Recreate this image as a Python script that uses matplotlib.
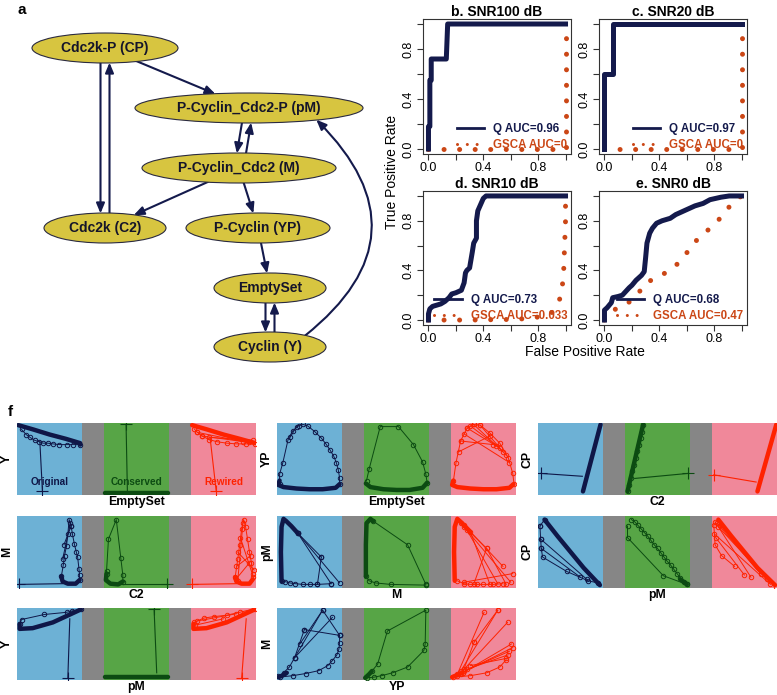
import numpy as np
import matplotlib.pyplot as plt
from matplotlib.patches import Ellipse, FancyArrowPatch
from matplotlib.lines import Line2D

plt.rcParams['font.family'] = ['Liberation Sans', 'DejaVu Sans']

W, H = 777, 695

# ---- panel a: network ----
node_labels = ['Cdc2k-P (CP)', 'P-Cyclin_Cdc2-P (pM)', 'P-Cyclin_Cdc2 (M)',
               'Cdc2k (C2)', 'P-Cyclin (YP)', 'EmptySet', 'Cyclin (Y)']
edges = [(0, 3), (3, 0), (0, 1), (1, 2), (2, 1), (2, 3), (2, 4),
         (4, 5), (5, 6), (6, 5), (6, 1)]

# layout of the network drawing (pixels)
node_x = [105, 249, 239, 105, 258, 270, 270]
node_y = [48, 108, 168, 228, 228, 288, 347]
node_halfw = [73, 114, 97, 61, 72, 56, 56]

# ---- panels b-e: ROC curves ----
roc_titles = ['b. SNR100 dB', 'c. SNR20 dB', 'd. SNR10 dB', 'e. SNR0 dB']
q_auc = ['0.96', '0.97', '0.73', '0.68']
gsca_auc = ['0', '0', '0.033', '0.47']

q_fpr_b = [0, 0, 0.01, 0.01, 0.02, 0.02, 0.13, 0.14, 1.0]
q_tpr_b = [0, 0.18, 0.18, 0.55, 0.55, 0.72, 0.72, 1.0, 1.0]
q_fpr_c = [0, 0, 0.06, 0.06, 1.0]
q_tpr_c = [0, 0.6, 0.6, 1.0, 1.0]
q_fpr_d = [0, 0, 0.01, 0.03, 0.06, 0.09, 0.12, 0.15, 0.17, 0.2, 0.24, 0.26, 0.27,
           0.28, 0.3, 0.32, 0.33, 0.35, 0.35, 0.36, 0.38, 0.4, 0.42, 1.0]
q_tpr_d = [0, 0.05, 0.09, 0.11, 0.12, 0.13, 0.15, 0.18, 0.21, 0.22, 0.24, 0.3, 0.38,
           0.4, 0.42, 0.55, 0.62, 0.66, 0.8, 0.88, 0.93, 0.98, 1.0, 1.0]
q_fpr_e = [0, 0, 0.02, 0.05, 0.06, 0.1, 0.13, 0.18, 0.2, 0.23, 0.27, 0.29, 0.3, 0.31,
           0.33, 0.35, 0.38, 0.42, 0.48, 0.52, 0.56, 0.62, 0.66, 0.72, 0.77, 0.85, 0.91, 1.0]
q_tpr_e = [0, 0.08, 0.1, 0.14, 0.18, 0.19, 0.2, 0.26, 0.28, 0.32, 0.36, 0.39, 0.5, 0.62,
           0.7, 0.74, 0.78, 0.8, 0.82, 0.85, 0.87, 0.9, 0.92, 0.94, 0.97, 0.99, 1.0, 1.0]

g_fpr_bc = [0, 1.0, 1.0]
g_tpr_bc = [0, 0, 1.0]
g_fpr_d = [0, 0.3, 0.6, 0.73, 0.83, 0.9, 0.95, 0.97, 0.985, 0.99, 0.995, 1.0, 1.0]
g_tpr_d = [0, 0.0, 0.005, 0.012, 0.03, 0.06, 0.14, 0.22, 0.35, 0.5, 0.65, 0.8, 1.0]
g_fpr_e = [0, 0.03, 0.11, 0.19, 0.25, 0.3, 0.38, 0.46, 0.53, 0.59, 0.63, 0.7, 0.76,
           0.82, 0.88, 0.93, 1.0]
g_tpr_e = [0, 0.05, 0.11, 0.15, 0.22, 0.3, 0.34, 0.39, 0.45, 0.52, 0.6, 0.67, 0.73,
           0.79, 0.87, 0.94, 1.0]

# ---- panel f: phase portraits (orig, conserved, rewired), panel-normalised ----
f_xlabels = ['EmptySet', 'EmptySet', 'C2', 'C2', 'M', 'pM', 'pM', 'YP']
f_ylabels = ['Y', 'YP', 'CP', 'M', 'pM', 'CP', 'Y', 'M']
condition_names = ['Original', 'Conserved', 'Rewired']

y_es_band = [[[(0.02, 0.97), (0.25, 0.91), (0.5, 0.84), (0.75, 0.78), (0.97, 0.72), (0.97, 0.7)]],
             [[(0.02, 0.03), (0.99, 0.03)]],
             [[(0.02, 0.97), (0.25, 0.91), (0.5, 0.84), (0.75, 0.78), (0.99, 0.72)]]]
y_es_loop = [[[(0.07, 0.91), (0.14, 0.84), (0.2, 0.8), (0.27, 0.76), (0.34, 0.74), (0.4, 0.72),
               (0.47, 0.72), (0.55, 0.71), (0.65, 0.7), (0.76, 0.7), (0.86, 0.7), (0.96, 0.7)]],
             [],
             [[(0.05, 0.92), (0.1, 0.87), (0.17, 0.82), (0.28, 0.77), (0.4, 0.74), (0.55, 0.72),
               (0.7, 0.71), (0.85, 0.71), (0.98, 0.71)],
              [(0.1, 0.87), (0.8, 0.74)], [(0.17, 0.82), (0.9, 0.73)], [(0.28, 0.8), (0.95, 0.76)]]]
y_es_spike = [[[(0.35, 0.75), (0.39, 0.05)]],
              [[(0.36, 0.06), (0.34, 0.98)]],
              [[(0.3, 0.76), (0.39, 0.05)]]]

yp_es_band = [[[(0.96, 0.15), (0.9, 0.1), (0.7, 0.08), (0.5, 0.08), (0.3, 0.09), (0.1, 0.11),
                (0.02, 0.14), (0.04, 0.2)]],
              [[(0.97, 0.17), (0.9, 0.1), (0.7, 0.07), (0.5, 0.07), (0.3, 0.08), (0.1, 0.11),
                (0.03, 0.16)]],
              [[(0.96, 0.15), (0.9, 0.1), (0.7, 0.08), (0.5, 0.08), (0.3, 0.09), (0.1, 0.11),
                (0.02, 0.14), (0.04, 0.2)]]]
yp_es_loop = [[[(0.04, 0.15), (0.04, 0.29), (0.09, 0.45), (0.17, 0.77), (0.24, 0.89),
                (0.33, 0.96), (0.4, 0.98), (0.47, 0.96), (0.58, 0.88), (0.68, 0.79),
                (0.75, 0.71), (0.81, 0.63), (0.87, 0.54), (0.91, 0.45), (0.94, 0.35),
                (0.96, 0.24), (0.96, 0.15)], [(0.2, 0.8), (0.3, 0.95)]],
              [[(0.04, 0.2), (0.08, 0.36), (0.25, 0.95), (0.53, 0.95), (0.76, 0.7),
                (0.9, 0.46), (0.95, 0.29), (0.97, 0.17)]],
              [[(0.04, 0.2), (0.08, 0.45), (0.15, 0.75), (0.25, 0.93), (0.35, 0.98),
                (0.45, 0.97), (0.6, 0.86), (0.75, 0.72), (0.88, 0.52), (0.95, 0.3), (0.97, 0.15)],
               [(0.3, 0.96), (0.75, 0.65)], [(0.35, 0.98), (0.8, 0.6)], [(0.45, 0.97), (0.85, 0.55)],
               [(0.25, 0.93), (0.7, 0.68)], [(0.15, 0.75), (0.65, 0.7)], [(0.2, 0.85), (0.9, 0.45)],
               [(0.12, 0.6), (0.6, 0.82)]]]
yp_es_spike = [[], [], []]

cp_c2_band = [[[(0.69, 0.05), (0.96, 0.98)]],
              [[(0.04, 0.05), (0.28, 0.98)]],
              [[(0.7, 0.05), (0.99, 0.98)]]]
cp_c2_loop = [[],
              [[(0.04, 0.05), (0.065, 0.14), (0.09, 0.23), (0.115, 0.33), (0.14, 0.42),
                (0.165, 0.52), (0.19, 0.61), (0.215, 0.7), (0.24, 0.79), (0.26, 0.88), (0.28, 0.97)]],
              []]
cp_c2_spike = [[[(0.68, 0.26), (0.04, 0.3)]],
               [[(0.15, 0.23), (0.97, 0.3)]],
               [[(0.68, 0.18), (0.03, 0.28)]]]

m_c2_band = [[[(0.96, 0.11), (0.9, 0.06), (0.78, 0.06), (0.7, 0.09), (0.68, 0.16)]],
             [[(0.29, 0.09), (0.22, 0.05), (0.1, 0.06), (0.03, 0.11), (0.04, 0.2)]],
             [[(0.95, 0.12), (0.9, 0.06), (0.78, 0.06), (0.7, 0.09), (0.68, 0.15)]]]
m_c2_loop = [[[(0.68, 0.16), (0.71, 0.32), (0.73, 0.45), (0.76, 0.59), (0.78, 0.75), (0.8, 0.95),
               (0.83, 0.86), (0.85, 0.75), (0.88, 0.61), (0.91, 0.5), (0.93, 0.43), (0.95, 0.27),
               (0.96, 0.18), (0.96, 0.11)], [(0.72, 0.6), (0.83, 0.86)], [(0.7, 0.4), (0.82, 0.9)]],
             [[(0.04, 0.2), (0.04, 0.23), (0.07, 0.68), (0.19, 0.95), (0.26, 0.41), (0.29, 0.18),
               (0.29, 0.09)]],
             [[(0.68, 0.15), (0.72, 0.4), (0.75, 0.6), (0.78, 0.82), (0.81, 0.95), (0.84, 0.85),
               (0.87, 0.68), (0.9, 0.5), (0.93, 0.35), (0.95, 0.2)],
              [(0.72, 0.1), (0.8, 0.9)], [(0.96, 0.15), (0.76, 0.7)], [(0.7, 0.3), (0.92, 0.45)],
              [(0.97, 0.25), (0.72, 0.5)], [(0.69, 0.12), (0.9, 0.35)]]]
m_c2_spike = [[[(0.7, 0.06), (0.03, 0.05)]],
              [[(0.15, 0.05), (0.97, 0.05)]],
              [[(0.7, 0.06), (0.02, 0.05)]]]

pm_m_band = [[[(0.07, 0.09), (0.06, 0.5), (0.07, 0.85), (0.1, 0.96), (0.14, 0.93),
               (0.22, 0.86), (0.32, 0.76)]],
             [[(0.03, 0.16), (0.03, 0.6), (0.04, 0.9), (0.1, 0.96), (0.14, 0.93)]],
             [[(0.06, 0.1), (0.05, 0.5), (0.06, 0.85), (0.1, 0.96), (0.15, 0.92), (0.3, 0.78)]]]
pm_m_loop = [[[(0.07, 0.1), (0.12, 0.09), (0.2, 0.07), (0.28, 0.06), (0.4, 0.05), (0.5, 0.05),
               (0.62, 0.05), (0.83, 0.06)], [(0.32, 0.76), (0.68, 0.43)],
              [(0.32, 0.76), (0.96, 0.07)], [(0.32, 0.76), (0.83, 0.06)], [(0.62, 0.05), (0.68, 0.43)]],
             [[(0.14, 0.93), (0.67, 0.6), (0.95, 0.05)],
              [(0.03, 0.16), (0.08, 0.1), (0.18, 0.07), (0.41, 0.05), (0.95, 0.04)]],
             [[(0.15, 0.9), (0.55, 0.55), (0.85, 0.05)], [(0.2, 0.85), (0.92, 0.08)],
              [(0.25, 0.8), (0.72, 0.06)], [(0.3, 0.78), (0.6, 0.05)], [(0.2, 0.88), (0.8, 0.3)],
              [(0.35, 0.05), (0.55, 0.55)],
              [(0.1, 0.1), (0.2, 0.06), (0.3, 0.05), (0.4, 0.05), (0.5, 0.05), (0.65, 0.05), (0.8, 0.06)],
              [(0.95, 0.2), (0.2, 0.08)]]]
pm_m_spike = [[], [], []]

cp_pm_band = [[[(0.1, 0.95), (0.3, 0.72), (0.5, 0.5), (0.7, 0.28), (0.95, 0.04)]],
              [[(0.85, 0.12), (0.95, 0.05)]],
              [[(0.1, 0.95), (0.3, 0.72), (0.5, 0.5), (0.7, 0.28), (0.97, 0.04)]]]
cp_pm_loop = [[[(0.03, 0.86), (0.04, 0.68), (0.05, 0.55), (0.07, 0.43), (0.44, 0.23), (0.77, 0.1),
                (0.92, 0.07)], [(0.04, 0.68), (0.75, 0.12)], [(0.05, 0.55), (0.65, 0.15)],
               [(0.03, 0.86), (0.1, 0.95)]],
              [[(0.1, 0.95), (0.15, 0.92), (0.2, 0.87), (0.25, 0.82), (0.3, 0.77), (0.35, 0.72),
                (0.4, 0.66), (0.45, 0.6), (0.5, 0.55), (0.55, 0.49), (0.6, 0.43), (0.65, 0.37),
                (0.7, 0.32), (0.75, 0.26), (0.8, 0.2), (0.85, 0.14), (0.9, 0.09), (0.95, 0.05)],
               [(0.04, 0.86), (0.04, 0.7), (0.59, 0.17), (0.95, 0.05)]],
              [[(0.03, 0.88), (0.05, 0.6), (0.15, 0.45), (0.35, 0.3)], [(0.05, 0.92), (0.6, 0.15)],
               [(0.08, 0.9), (0.75, 0.2)], [(0.1, 0.85), (0.85, 0.12)], [(0.04, 0.75), (0.9, 0.05)],
               [(0.06, 0.7), (0.5, 0.18)], [(0.12, 0.88), (0.98, 0.02)]]]
cp_pm_spike = [[], [], []]

y_pm_band = [[[(0.04, 0.78), (0.04, 0.71), (0.24, 0.72), (0.55, 0.8), (0.98, 0.98)]],
             [[(0.02, 0.04), (0.99, 0.04)]],
             [[(0.04, 0.78), (0.04, 0.71), (0.24, 0.72), (0.55, 0.8), (0.98, 0.98)]]]
y_pm_loop = [[[(0.04, 0.78), (0.07, 0.84), (0.42, 0.91), (0.76, 0.94), (0.85, 0.96), (0.98, 0.98)]],
             [],
             [[(0.05, 0.8), (0.2, 0.86), (0.35, 0.88), (0.55, 0.9), (0.75, 0.94), (0.98, 0.99)],
              [(0.1, 0.82), (0.7, 0.92)], [(0.06, 0.76), (0.5, 0.85)]]]
y_pm_spike = [[[(0.81, 0.85), (0.78, 0.03)]],
              [[(0.81, 0.1), (0.77, 0.98)]],
              [[(0.85, 0.85), (0.78, 0.03)]]]

m_yp_band = [[[(0.02, 0.04), (0.08, 0.06), (0.15, 0.1)]],
             [[(0.02, 0.03), (0.08, 0.08), (0.12, 0.12)]],
             [[(0.02, 0.04), (0.1, 0.07), (0.18, 0.1)]]]
m_yp_loop = [[[(0.04, 0.04), (0.24, 0.06), (0.44, 0.09), (0.64, 0.13), (0.78, 0.2), (0.85, 0.27),
               (0.92, 0.35), (0.95, 0.43), (0.96, 0.52), (0.96, 0.62)],
              [(0.02, 0.05), (0.1, 0.1), (0.19, 0.18), (0.27, 0.31), (0.42, 0.7)],
              [(0.27, 0.31), (0.7, 0.97), (0.96, 0.62)], [(0.27, 0.31), (0.85, 0.87)],
              [(0.42, 0.7), (0.96, 0.62)], [(0.35, 0.5), (0.7, 0.97)]],
             [[(0.12, 0.12), (0.21, 0.22), (0.36, 0.68), (0.95, 0.97), (0.94, 0.5), (0.92, 0.41),
               (0.67, 0.18), (0.44, 0.1), (0.27, 0.06), (0.16, 0.04), (0.05, 0.03)]],
             [[(0.04, 0.04), (0.3, 0.06), (0.55, 0.1), (0.75, 0.18), (0.85, 0.28)],
              [(0.1, 0.08), (0.51, 0.94)], [(0.15, 0.12), (0.72, 0.97)], [(0.1, 0.05), (0.87, 0.8)],
              [(0.2, 0.15), (0.36, 0.53)], [(0.18, 0.1), (0.93, 0.5)], [(0.2, 0.12), (0.9, 0.4)],
              [(0.25, 0.15), (0.88, 0.35)], [(0.15, 0.09), (0.95, 0.45)], [(0.3, 0.2), (0.85, 0.3)],
              [(0.36, 0.53), (0.72, 0.97)]]]
m_yp_spike = [[], [], []]

NAVY = '#141A4C'
ORANGE = '#CB4716'
NODE_FILL = '#D7C540'
PANEL_BG = ['#6DB1D5', '#57A546', '#F0889A']
GAP_BG = '#868686'
TRAJ = ['#0F1748', '#0C4B12', '#FF2200']


def px_rect(x0, y0, x1, y1):
    return [x0 / W, 1 - y1 / H, (x1 - x0) / W, (y1 - y0) / H]


def draw_network(fig):
    ax = fig.add_axes(px_rect(0, 0, 380, 400))
    ax.set_xlim(0, 380)
    ax.set_ylim(400, 0)
    ax.axis('off')
    ells = []
    for i, lab in enumerate(node_labels):
        e = Ellipse((node_x[i], node_y[i]), 2 * node_halfw[i], 30, facecolor=NODE_FILL,
                    edgecolor='#2a2a40', lw=0.8, zorder=2)
        ax.add_patch(e)
        ells.append(e)
        ax.text(node_x[i], node_y[i], lab, ha='center', va='center', fontsize=10,
                fontweight='bold', color='#15152a', zorder=3)
    for a, b in edges:
        pa = np.array([node_x[a], node_y[a]], dtype=float)
        pb = np.array([node_x[b], node_y[b]], dtype=float)
        style = 'arc3,rad=0'
        if (b, a) in edges:
            d = (pb - pa) / np.linalg.norm(pb - pa)
            off = np.array([-d[1], d[0]]) * 4.5
            pa, pb = pa + off, pb + off
        if (a, b) == (6, 1):
            # long feedback edge bowing out to the right
            pa = pa + np.array([20.0, 0.0])
            pb = pb + np.array([55.0, 0.0])
            style = 'arc3,rad=0.62'
        arr = FancyArrowPatch(tuple(pa), tuple(pb), patchA=ells[a], patchB=ells[b],
                              arrowstyle='-|>,head_length=0.6,head_width=0.25',
                              mutation_scale=10, lw=1.5, color=NAVY,
                              shrinkA=0, shrinkB=0, connectionstyle=style, zorder=1)
        ax.add_patch(arr)
    fig.text(18 / W, 1 - 10 / H, 'a', fontsize=11, fontweight='bold', va='center')


def draw_roc(fig):
    rects = [(423, 19, 571, 154), (599, 19, 747, 154), (423, 191, 571, 325), (599, 191, 747, 325)]
    q_data = [(q_fpr_b, q_tpr_b), (q_fpr_c, q_tpr_c), (q_fpr_d, q_tpr_d), (q_fpr_e, q_tpr_e)]
    g_data = [(g_fpr_bc, g_tpr_bc), (g_fpr_bc, g_tpr_bc), (g_fpr_d, g_tpr_d), (g_fpr_e, g_tpr_e)]
    for i in range(4):
        ax = fig.add_axes(px_rect(*rects[i]))
        ax.plot(g_data[i][0], g_data[i][1], color=ORANGE, lw=3.6, linestyle=(0, (0.01, 3.1)),
                dash_capstyle='round', zorder=2)
        ax.plot(q_data[i][0], q_data[i][1], color=NAVY, lw=3.6, zorder=3)
        ax.set_xlim(-0.04, 1.04)
        ax.set_ylim(-0.04, 1.04)
        ticks = [0, 0.2, 0.4, 0.6, 0.8, 1.0]
        labs = ['0.0', '', '0.4', '', '0.8', '']
        ax.set_xticks(ticks, labs, fontsize=9)
        ax.set_yticks(ticks, labs, fontsize=9, rotation=90, va='center')
        ax.tick_params(length=4, width=0.8, pad=2, color='#333333')
        for s in ax.spines.values():
            s.set_linewidth(0.8)
            s.set_color('#333333')
        ax.set_title(roc_titles[i], fontsize=10, fontweight='bold', pad=2)
        handles = [Line2D([], [], color=NAVY, lw=2),
                   Line2D([], [], color=ORANGE, lw=2.2, linestyle=(0, (0.01, 3.2)),
                          dash_capstyle='round')]
        labels = ['Q AUC=' + q_auc[i], 'GSCA AUC=' + gsca_auc[i]]
        ax.legend(handles, labels, loc='lower right', frameon=False, labelcolor='linecolor',
                  prop={'weight': 'bold', 'size': 8.3}, handlelength=2.4, borderaxespad=0.1,
                  handletextpad=0.8, labelspacing=0.3, borderpad=0.2)
    fig.text(585 / W, 1 - 352 / H, 'False Positive Rate', ha='center', va='center', fontsize=10)
    fig.text(392 / W, 1 - 172 / H, 'True Positive Rate', ha='center', va='center',
             fontsize=10, rotation=90)


def draw_multiple(fig, rect, xlabel, ylabel, bands, loops, spikes, names):
    ax = fig.add_axes(rect)
    ax.set_facecolor(GAP_BG)
    for k in range(3):
        x0 = k * 4 / 3
        ax.axvspan(x0, x0 + 1, color=PANEL_BG[k], lw=0, zorder=0)
        for path in bands[k]:
            xs = [x0 + p[0] for p in path]
            ys = [p[1] for p in path]
            ax.plot(xs, ys, color=TRAJ[k], lw=3.2, solid_capstyle='round', zorder=2)
        for path in loops[k]:
            xs = [x0 + p[0] for p in path]
            ys = [p[1] for p in path]
            ax.plot(xs, ys, color=TRAJ[k], lw=0.7, marker='o', ms=3.2, mfc='none',
                    mew=0.7, zorder=3)
        for path in spikes[k]:
            xs = [x0 + p[0] for p in path]
            ys = [p[1] for p in path]
            ax.plot(xs, ys, color=TRAJ[k], lw=0.8, zorder=3)
            ax.plot(xs[-1:], ys[-1:], color=TRAJ[k], marker='+', ms=8, mew=0.8, zorder=3)
        if names:
            ax.text(x0 + 0.5, 0.18, condition_names[k], color=TRAJ[k], fontsize=7.2,
                    fontweight='bold', ha='center', va='center', zorder=4)
    ax.set_xlim(0, 11 / 3)
    ax.set_ylim(0, 1)
    ax.set_xticks([])
    ax.set_yticks([])
    for s in ax.spines.values():
        s.set_visible(False)
    ax.set_xlabel(xlabel, fontsize=8.8, fontweight='bold', labelpad=0.5)
    ax.set_ylabel(ylabel, fontsize=8.8, fontweight='bold', labelpad=3)


def draw_phase(fig):
    col_x = [17, 277, 538]
    row_y = [423, 516, 608]
    data = [(y_es_band, y_es_loop, y_es_spike), (yp_es_band, yp_es_loop, yp_es_spike),
            (cp_c2_band, cp_c2_loop, cp_c2_spike), (m_c2_band, m_c2_loop, m_c2_spike),
            (pm_m_band, pm_m_loop, pm_m_spike), (cp_pm_band, cp_pm_loop, cp_pm_spike),
            (y_pm_band, y_pm_loop, y_pm_spike), (m_yp_band, m_yp_loop, m_yp_spike)]
    for i, (bands, loops, spikes) in enumerate(data):
        r, c = divmod(i, 3)
        rect = px_rect(col_x[c], row_y[r], col_x[c] + 239, row_y[r] + 72)
        draw_multiple(fig, rect, f_xlabels[i], f_ylabels[i], bands, loops, spikes, i == 0)
    fig.text(8 / W, 1 - 412 / H, 'f', fontsize=11, fontweight='bold', va='center')


def main():
    fig = plt.figure(figsize=(W / 100, H / 100), dpi=100)
    draw_network(fig)
    draw_roc(fig)
    draw_phase(fig)
    fig.savefig('out.png', dpi=100)


if __name__ == '__main__':
    main()
